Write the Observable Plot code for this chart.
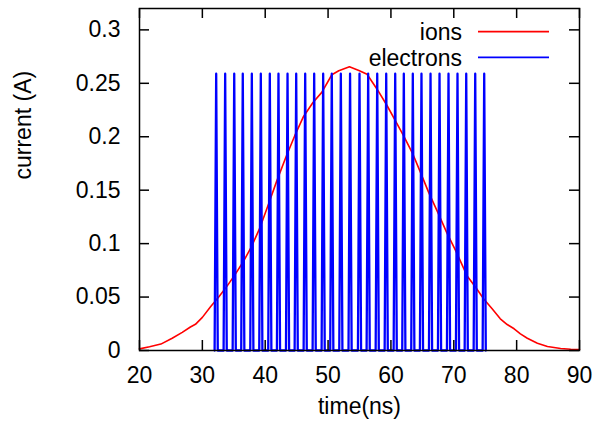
<!DOCTYPE html>
<html><head><meta charset="utf-8">
<script src="https://cdn.jsdelivr.net/npm/d3@7"></script>
<script src="https://cdn.jsdelivr.net/npm/@observablehq/plot@0.6"></script>
<style>body{margin:0;background:#fff}</style>
</head><body><div id="chart"></div>
<script>
const xTicks = [20, 30, 40, 50, 60, 70, 80, 90];
const yTicks = [0, 0.05, 0.1, 0.15, 0.2, 0.25, 0.3];
const xTitle = "time(ns)";
const yTitle = "current (A)";
const seriesNames = ["ions", "electrons"];
const seriesColors = ["#ff0000", "#0000ff"];

const ionTime = [20, 21.6, 23.4, 25.2, 26.8, 28.1, 28.9, 30.0, 31.3, 32.6, 33.9, 35.2, 36.5, 37.8, 39.1, 40.4, 41.8, 43.3, 44.7, 46.1, 47.6, 49.0, 50.6, 51.7, 53.4, 54.9, 56.2, 57.8, 59.4, 60.7, 62.0, 63.4, 64.7, 66.0, 67.4, 68.9, 70.3, 72.1, 73.5, 74.8, 76.1, 77.4, 78.5, 79.6, 80.6, 81.7, 83.3, 84.9, 87.0, 88.6, 90.0];
const ionCurrent = [0.0015, 0.0035, 0.006, 0.0115, 0.017, 0.022, 0.0245, 0.031, 0.041, 0.050, 0.060, 0.071, 0.083, 0.097, 0.114, 0.135, 0.158, 0.181, 0.201, 0.219, 0.232, 0.2415, 0.258, 0.2617, 0.2654, 0.262, 0.2585, 0.2445, 0.229, 0.215, 0.201, 0.185, 0.1667, 0.148, 0.130, 0.110, 0.0935, 0.070, 0.059, 0.048, 0.039, 0.0296, 0.0243, 0.0203, 0.0156, 0.0115, 0.0068, 0.0037, 0.0019, 0.0012, 0.001];

const electronPulseTime = [32.20, 33.63, 35.07, 36.43, 37.87, 39.30, 40.73, 42.11, 43.55, 44.93, 46.36, 47.79, 49.22, 50.59, 52.03, 53.50, 55.00, 56.38, 57.82, 59.25, 60.68, 62.05, 63.48, 64.86, 66.30, 67.73, 69.16, 70.59, 71.98, 73.41, 74.84];
const electronPeak = 0.259;

const ions = ionTime.map((t, i) => ({t, v: ionCurrent[i]}));
const pulseHalfWidth = 0.25;
const electrons = electronPulseTime.flatMap(t => [
  {t: t - pulseHalfWidth, v: 0},
  {t, v: electronPeak},
  {t: t + pulseHalfWidth, v: 0}
]);

const W = 597, H = 428;
const M = {top: 8, right: 18, bottom: 78, left: 139};
const plotW = W - M.left - M.right, plotH = H - M.top - M.bottom;
const tickLen = 10;

function legend(index, scales, values, dims) {
  const g = d3.create("svg:g").attr("font-size", 23);
  const xr = dims.width - dims.marginRight;
  seriesNames.forEach((name, i) => {
    const y = dims.marginTop + 23.7 + i * 25.7;
    g.append("text").attr("x", xr - 117).attr("y", y + 8.5)
      .attr("text-anchor", "end").attr("fill", "black").text(name);
    g.append("line").attr("x1", xr - 101).attr("x2", xr - 30)
      .attr("y1", y).attr("y2", y)
      .attr("stroke", seriesColors[i]).attr("stroke-width", 1.8);
  });
  return g.node();
}

const chart = Plot.plot({
  width: W, height: H,
  marginTop: M.top, marginRight: M.right, marginBottom: M.bottom, marginLeft: M.left,
  style: {fontFamily: "'Liberation Sans', Arial, sans-serif", fontSize: "23px", background: "white", color: "black"},
  x: {domain: [20, 90]},
  y: {domain: [0, 0.32]},
  marks: [
    Plot.line(ions, {x: "t", y: "v", stroke: seriesColors[0], strokeWidth: 1.6}),
    Plot.line(electrons, {x: "t", y: "v", stroke: seriesColors[1], strokeWidth: 2.3}),
    Plot.tickY(yTicks, {y: d => d, insetRight: plotW - tickLen, stroke: "black", strokeWidth: 1.5}),
    Plot.tickY(yTicks, {y: d => d, insetLeft: plotW - tickLen, stroke: "black", strokeWidth: 1.5}),
    Plot.tickX(xTicks, {x: d => d, insetBottom: plotH - tickLen, stroke: "black", strokeWidth: 1.5}),
    Plot.tickX(xTicks, {x: d => d, insetTop: plotH - tickLen, stroke: "black", strokeWidth: 1.5}),
    Plot.frame({stroke: "black", strokeWidth: 1.5}),
    Plot.axisX({ticks: xTicks, tickSize: 0, tickPadding: 16, label: null, tickFormat: d => String(d)}),
    Plot.axisY({ticks: yTicks, tickSize: 0, tickPadding: 19, label: null, tickFormat: d => String(d)}),
    Plot.text([xTitle], {frameAnchor: "bottom", dy: 63, text: d => d, fill: "black"}),
    Plot.text([yTitle], {frameAnchor: "left", dx: -116, rotate: -90, text: d => d, fill: "black"}),
    legend
  ]
});
document.getElementById("chart").appendChild(chart);
</script>
</body></html>
